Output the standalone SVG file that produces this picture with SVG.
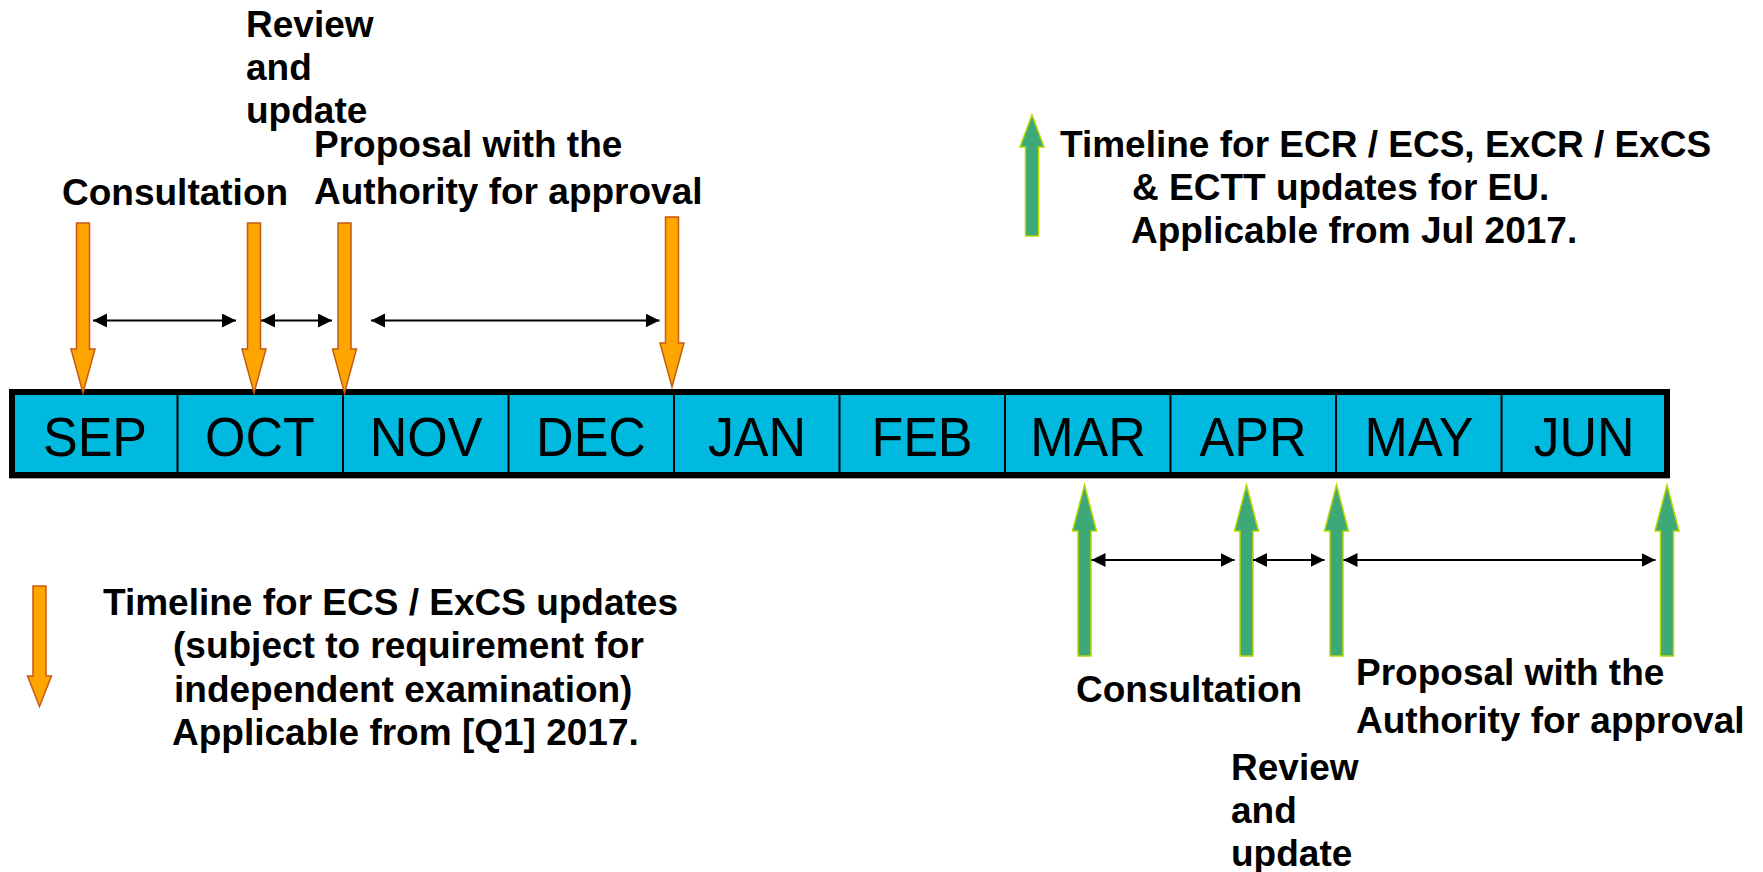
<svg xmlns="http://www.w3.org/2000/svg" width="1763" height="872" viewBox="0 0 1763 872">
<style>
.lbl{font-family:"Liberation Sans",Arial,sans-serif;font-weight:bold;font-size:37px;fill:#000}
.mon{font-family:"Liberation Sans",Arial,sans-serif;font-size:52px;fill:#000;text-anchor:middle}
.org{fill:#FFA500;stroke:#C55A11;stroke-width:1.5}
.grn{fill:#3DA878;stroke:#B8D600;stroke-width:1.5}
.dbl{stroke:#000;stroke-width:2;fill:none;marker-start:url(#ah);marker-end:url(#ah)}
.div{stroke:#000;stroke-width:2}
</style>
<defs>
<marker id="ah" markerUnits="userSpaceOnUse" markerWidth="15" markerHeight="15" refX="14" refY="7" orient="auto-start-reverse">
<path d="M0,0 L14,7 L0,14 Z" fill="#000"/>
</marker>
<path id="downArrow" d="M-6.5,0 H6.5 V126 H12 L0,170 L-12,126 H-6.5 Z"/>
<path id="upArrow" d="M0,0 L12,46 H6.5 V171 H-6.5 V46 H-12 Z"/>
</defs>

<g id="timeline-bar">
<line x1="9" y1="478.5" x2="1670" y2="478.5" stroke="#A0A0A0" stroke-width="1"/>
<rect x="12" y="392" width="1655" height="83" fill="#00B9DF" stroke="#000" stroke-width="6"/>
<line class="div" x1="177.5" y1="395" x2="177.5" y2="472"/>
<line class="div" x1="343" y1="395" x2="343" y2="472"/>
<line class="div" x1="508.5" y1="395" x2="508.5" y2="472"/>
<line class="div" x1="674" y1="395" x2="674" y2="472"/>
<line class="div" x1="839.5" y1="395" x2="839.5" y2="472"/>
<line class="div" x1="1005" y1="395" x2="1005" y2="472"/>
<line class="div" x1="1170.5" y1="395" x2="1170.5" y2="472"/>
<line class="div" x1="1336" y1="395" x2="1336" y2="472"/>
<line class="div" x1="1501.5" y1="395" x2="1501.5" y2="472"/>
<g transform="translate(0,456) scale(1,1.06) translate(0,-456)">
<text class="mon" x="95" y="456">SEP</text>
<text class="mon" x="260" y="456">OCT</text>
<text class="mon" x="426" y="456">NOV</text>
<text class="mon" x="591" y="456">DEC</text>
<text class="mon" x="757" y="456">JAN</text>
<text class="mon" x="922" y="456">FEB</text>
<text class="mon" x="1088" y="456">MAR</text>
<text class="mon" x="1253" y="456">APR</text>
<text class="mon" x="1419" y="456">MAY</text>
<text class="mon" x="1584" y="456">JUN</text>
</g>
</g>

<g id="orange-arrows">
<use href="#downArrow" class="org" transform="translate(83,223)"/>
<use href="#downArrow" class="org" transform="translate(254,223)"/>
<use href="#downArrow" class="org" transform="translate(344.5,223)"/>
<use href="#downArrow" class="org" transform="translate(672,217)"/>
</g>

<g id="green-arrows">
<use href="#upArrow" class="grn" transform="translate(1084.5,485)"/>
<use href="#upArrow" class="grn" transform="translate(1246.5,485)"/>
<use href="#upArrow" class="grn" transform="translate(1336.5,485)"/>
<use href="#upArrow" class="grn" transform="translate(1667,485)"/>
</g>

<g id="connectors">
<line class="dbl" x1="93" y1="320.5" x2="236" y2="320.5"/>
<line class="dbl" x1="261" y1="320.5" x2="332" y2="320.5"/>
<line class="dbl" x1="371" y1="320.5" x2="659.5" y2="320.5"/>
<line class="dbl" x1="1091.5" y1="560" x2="1234.5" y2="560"/>
<line class="dbl" x1="1253" y1="560" x2="1324.5" y2="560"/>
<line class="dbl" x1="1343.5" y1="560" x2="1655.5" y2="560"/>
</g>

<g id="top-labels">
<text class="lbl" x="246" y="37">Review</text>
<text class="lbl" x="246" y="80">and</text>
<text class="lbl" x="246" y="123">update</text>
<text class="lbl" x="314" y="157">Proposal with the</text>
<text class="lbl" x="314" y="204">Authority for approval</text>
<text class="lbl" x="62" y="205">Consultation</text>
</g>

<g id="legend-eu">
<path class="grn" d="M1032,115 L1044,147 H1038.5 V236 H1025.5 V147 H1020 Z"/>
<text class="lbl" x="1060" y="157">Timeline for ECR / ECS, ExCR / ExCS</text>
<text class="lbl" x="1132" y="200">&amp; ECTT updates for EU.</text>
<text class="lbl" x="1131" y="243">Applicable from Jul 2017.</text>
</g>

<g id="legend-ecs">
<path class="org" d="M33,586 H46 V676 H51.5 L39.5,706.5 L27.5,676 H33 Z"/>
<text class="lbl" x="103" y="615">Timeline for ECS / ExCS updates</text>
<text class="lbl" x="173" y="658">(subject to requirement for</text>
<text class="lbl" x="174" y="702">independent examination)</text>
<text class="lbl" x="172" y="745">Applicable from [Q1] 2017.</text>
</g>

<g id="bottom-labels">
<text class="lbl" x="1076" y="702">Consultation</text>
<text class="lbl" x="1356" y="685">Proposal with the</text>
<text class="lbl" x="1356" y="733">Authority for approval</text>
<text class="lbl" x="1231" y="780">Review</text>
<text class="lbl" x="1231" y="823">and</text>
<text class="lbl" x="1231" y="866">update</text>
</g>
</svg>
